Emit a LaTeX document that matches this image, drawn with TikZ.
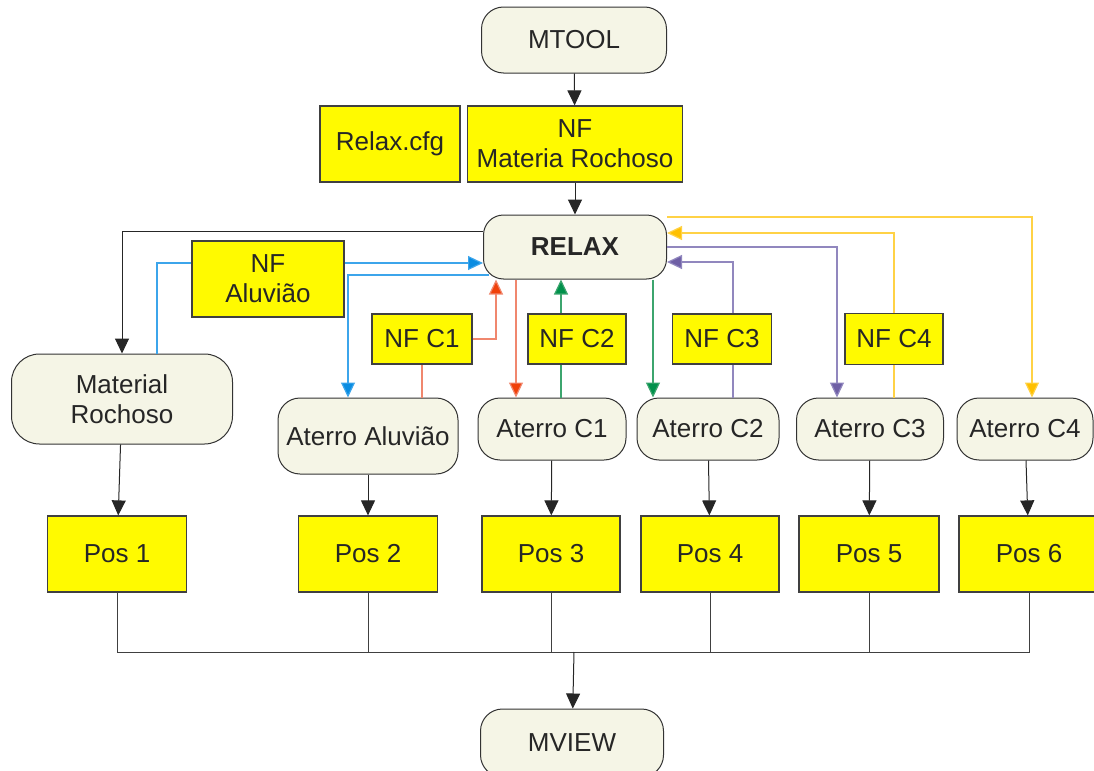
\documentclass[tikz,border=0pt]{standalone}
\usepackage{fontspec}
\setmainfont{Liberation Sans}
\usepackage{tikz}
\usetikzlibrary{arrows.meta,positioning}
\definecolor{progfill}{RGB}{245,245,230}
\definecolor{fileyellow}{RGB}{255,250,0}
\definecolor{aluv-head}{RGB}{10,140,225}
\definecolor{aluv-line}{RGB}{60,165,235}
\definecolor{c1-head}{RGB}{240,65,10}
\definecolor{c1-line}{RGB}{240,135,110}
\definecolor{c2-head}{RGB}{0,145,75}
\definecolor{c2-line}{RGB}{60,165,110}
\definecolor{c3-head}{RGB}{110,95,165}
\definecolor{c3-line}{RGB}{145,135,190}
\definecolor{c4-head}{RGB}{255,192,0}
\definecolor{c4-line}{RGB}{255,210,70}
\tikzset{
  flow-prog/.style={draw=black!80, fill=progfill, rounded corners=11pt, line width=0.5pt,
    align=center, font=\fontsize{13}{15}\selectfont, text=black!85, inner sep=0pt},
  flow-file/.style={draw=black!75, fill=fileyellow, line width=0.6pt,
    align=center, font=\fontsize{13}{15}\selectfont, text=black!85, inner sep=0pt},
  flow-arrow/.style={-{Triangle[length=7.5pt,width=7pt,fill=black!85]}, line width=0.5pt, draw=black!85},
  flow-link/.style={line width=0.5pt, draw=black!75},
  case-line/.style={line width=0.6pt, draw=#1-line},
  case-arrow/.style={-{Triangle[length=7.5pt,width=7pt,fill=#1-head]}, line width=0.6pt, draw=#1-line}
}
\begin{document}
\begin{tikzpicture}[x=0.5pt, y=-0.5pt]
  \useasboundingbox (0,0) rectangle (1094,771);
  \clip (0,0) rectangle (1094,771);

  % Top: mesh generator and input files
  \node[flow-prog, minimum width=92.5pt, minimum height=33pt] (mtool) at (574,40) {MTOOL};
  \node[flow-file, minimum width=70pt, minimum height=38pt] (relaxcfg) at (390,144) {Relax.cfg};
  \node[flow-file, minimum width=107.5pt, minimum height=38pt] (nfmat) at (575,144) {NF\\Materia Rochoso};
  \node[flow-prog, rounded corners=10pt, minimum width=91.5pt, minimum height=32pt, font=\fontsize{13}{15}\selectfont\bfseries] (relax) at (575,247) {RELAX};

  % Neutral files for each stage
  \node[flow-file, minimum width=76pt, minimum height=38pt] (nfaluv) at (268,279) {NF\\Aluvião};
  \node[flow-file, minimum width=50pt, minimum height=25pt] (nfc1) at (422,339) {NF C1};
  \node[flow-file, minimum width=49pt, minimum height=25pt] (nfc2) at (577,339) {NF C2};
  \node[flow-file, minimum width=49.5pt, minimum height=25pt] (nfc3) at (722,339) {NF C3};
  \node[flow-file, minimum width=49pt, minimum height=25.5pt] (nfc4) at (894,339) {NF C4};

  % Analysis stages
  \node[flow-prog, rounded corners=14pt, minimum width=110.5pt, minimum height=45pt] (matroch) at (122,399) {Material\\Rochoso};
  \node[flow-prog, minimum width=90pt, minimum height=38pt] (atal) at (368,436) {Aterro Aluvião};
  \node[flow-prog, minimum width=74pt, minimum height=31pt] (atc1) at (552,429) {Aterro C1};
  \node[flow-prog, minimum width=71pt, minimum height=31pt] (atc2) at (708,429) {Aterro C2};
  \node[flow-prog, minimum width=73.5pt, minimum height=31pt] (atc3) at (870,429) {Aterro C3};
  \node[flow-prog, minimum width=68pt, minimum height=31pt] (atc4) at (1025,429) {Aterro C4};

  % Post-processing files
  \node[flow-file, minimum width=69.5pt, minimum height=38pt] (pos1) at (117,554) {Pos 1};
  \node[flow-file, minimum width=69.5pt, minimum height=38pt] (pos2) at (368,554) {Pos 2};
  \node[flow-file, minimum width=69pt, minimum height=38pt] (pos3) at (551,554) {Pos 3};
  \node[flow-file, minimum width=69pt, minimum height=38pt] (pos4) at (710,554) {Pos 4};
  \node[flow-file, minimum width=70pt, minimum height=38pt] (pos5) at (869,554) {Pos 5};
  \node[flow-file, minimum width=70pt, minimum height=38pt] (pos6) at (1029,554) {Pos 6};

  \node[flow-prog, minimum width=91.5pt, minimum height=34pt] (mview) at (572,743) {MVIEW};
  \coordinate (bus) at (574,652);

  % Main chain
  \draw[flow-arrow] (mtool) -- (nfmat);
  \draw[flow-arrow] (nfmat) -- (relax);
  \draw[flow-arrow] (relax.west |- 0,231) -| (matroch.north);

  % Aluviao loop
  \draw[case-line=aluv] (matroch.north -| 157,0) |- (nfaluv.west |- 0,263);
  \draw[case-arrow=aluv] (nfaluv.east |- 0,263) -- (relax.west |- 0,263);
  \draw[case-arrow=aluv] ([xshift=3pt]relax.west |- 0,275) -| (atal.north -| 348,0);

  % C1 loop
  \draw[case-line=c1] (atal.north -| nfc1.south) -- (nfc1.south);
  \draw[case-arrow=c1] (nfc1.east) -| (relax.south -| 496,0);
  \draw[case-arrow=c1] (relax.south -| 516,0) -- (atc1.north -| 516,0);

  % C2 loop
  \draw[case-line=c2] (atc1.north -| 561,0) -- (nfc2.south -| 561,0);
  \draw[case-arrow=c2] (nfc2.north -| 561,0) -- (relax.south -| 561,0);
  \draw[case-arrow=c2] (relax.south -| 653,0) -- (atc2.north -| 653,0);

  % C3 loop
  \draw[case-line=c3] (atc2.north -| 733,0) -- (nfc3.south -| 733,0);
  \draw[case-arrow=c3] (nfc3.north -| 733,0) |- (relax.east |- 0,262);
  \draw[case-arrow=c3] (relax.east) -| (atc3.north -| 837,0);

  % C4 loop
  \draw[case-line=c4] (atc3.north -| nfc4.south) -- (nfc4.south);
  \draw[case-arrow=c4] (nfc4.north) |- (relax.east |- 0,233);
  \draw[case-arrow=c4] (relax.north east |- 0,217) -| (atc4.north -| 1032,0);

  % Stages to post files
  \draw[flow-arrow] (matroch) -- (pos1);
  \draw[flow-arrow] (atal) -- (pos2);
  \draw[flow-arrow] (atc1) -- (pos3);
  \draw[flow-arrow] (atc2) -- (pos4);
  \draw[flow-arrow] (atc3) -- (pos5);
  \draw[flow-arrow] (atc4) -- (pos6);

  % Collector to MVIEW
  \draw[flow-link] (pos1.south) -- (pos1.south |- bus) -- (pos6.south |- bus) -- (pos6.south);
  \foreach \p in {pos2,pos3,pos4,pos5}
    \draw[flow-link] (\p.south) -- (\p.south |- bus);
  \draw[flow-arrow] (bus) -- (mview);
\end{tikzpicture}
\end{document}
